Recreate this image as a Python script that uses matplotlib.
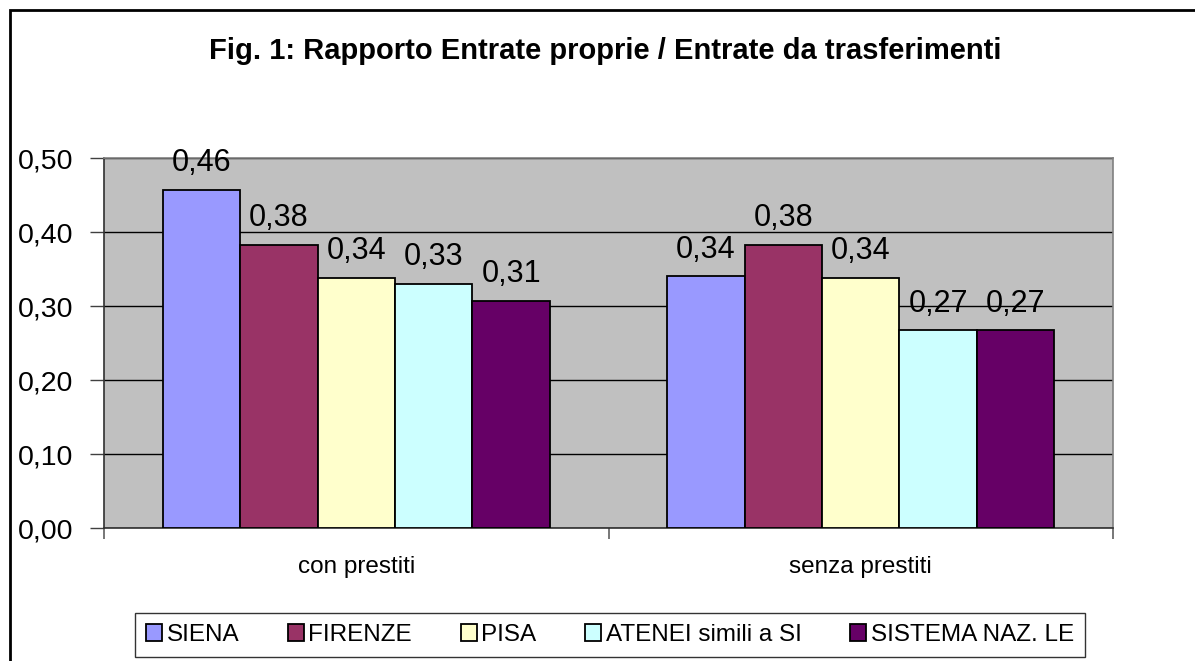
import matplotlib.pyplot as plt
import numpy as np
from matplotlib.patches import Rectangle

plt.rcParams['font.family'] = ['Liberation Sans', 'DejaVu Sans']

# ── Data ─────────────────────────────────────────────────────────────────────
categories = ["con prestiti", "senza prestiti"]
series     = ["SIENA", "FIRENZE", "PISA", "ATENEI simili a SI", "SISTEMA NAZ. LE"]
values = [
    [0.457, 0.340],   # SIENA
    [0.383, 0.383],   # FIRENZE
    [0.338, 0.338],   # PISA
    [0.330, 0.267],   # ATENEI simili a SI
    [0.307, 0.267],   # SISTEMA NAZ. LE
]
colors = ["#9999FF", "#993366", "#FFFFCC", "#CCFFFF", "#660066"]
yticks = [0.0, 0.1, 0.2, 0.3, 0.4, 0.5]

title = "Fig. 1: Rapporto Entrate proprie / Entrate da trasferimenti"

# ── Figure ───────────────────────────────────────────────────────────────────
fig = plt.figure(figsize=(11.95, 6.61), dpi=100)
ax = fig.add_axes([104 / 1195, 133 / 661, 1009 / 1195, 370 / 661])
ax.set_facecolor("#C0C0C0")

# outer chart border (only top/left are inside the picture)
fig.patches.append(Rectangle((10 / 1195, -0.1), 1.2, (651 / 661) + 0.1,
                             transform=fig.transFigure, fill=False,
                             edgecolor="black", linewidth=2, zorder=0))

x = np.arange(len(categories))
width = 0.1535
n = len(series)
for i, (name, vals, col) in enumerate(zip(series, values, colors)):
    pos = x + (i - (n - 1) / 2) * width
    bars = ax.bar(pos, vals, width, color=col, edgecolor="black",
                  linewidth=1.3, label=name, zorder=3)
    for b, v in zip(bars, vals):
        ax.annotate(f"{v:.2f}".replace(".", ","),
                    (b.get_x() + b.get_width() / 2, v),
                    xytext=(0, 13.5), textcoords="offset points",
                    ha="center", va="baseline", fontsize=22, zorder=4)

ax.set_xlim(-0.5, 1.5)
ax.set_ylim(0, 0.5)
ax.set_yticks(yticks)
ax.set_yticklabels([f"{t:.2f}".replace(".", ",") for t in yticks], fontsize=20.5)
ax.yaxis.grid(True, color="black", linewidth=1)
ax.set_axisbelow(True)

ax.set_xticks(x)
ax.set_xticklabels(categories, fontsize=17.5)
ax.tick_params(axis="x", which="major", length=0, pad=20)
ax.set_xticks([-0.5, 0.5, 1.5], minor=True)
ax.tick_params(axis="x", which="minor", length=8, color="#606060", width=1.2)
ax.tick_params(axis="y", length=10, color="#404040", width=1, pad=12)

for s in ["top", "right"]:
    ax.spines[s].set_color("#808080")
    ax.spines[s].set_linewidth(1.2)
for s in ["left", "bottom"]:
    ax.spines[s].set_color("#303030")
    ax.spines[s].set_linewidth(1.2)

fig.text(605 / 1195, 1 - 51 / 661, title, ha="center", va="center",
         fontsize=21, fontweight="bold")

leg = fig.legend(loc="center", bbox_to_anchor=(610 / 1195, 1 - 635 / 661),
                 ncol=5, fontsize=17.5, frameon=True, fancybox=False,
                 edgecolor="black", handlelength=0.65, handleheight=0.65,
                 handletextpad=0.2, columnspacing=2.0, borderpad=0.45)
leg.get_frame().set_linewidth(1)

fig.savefig("out.png", dpi=100)
